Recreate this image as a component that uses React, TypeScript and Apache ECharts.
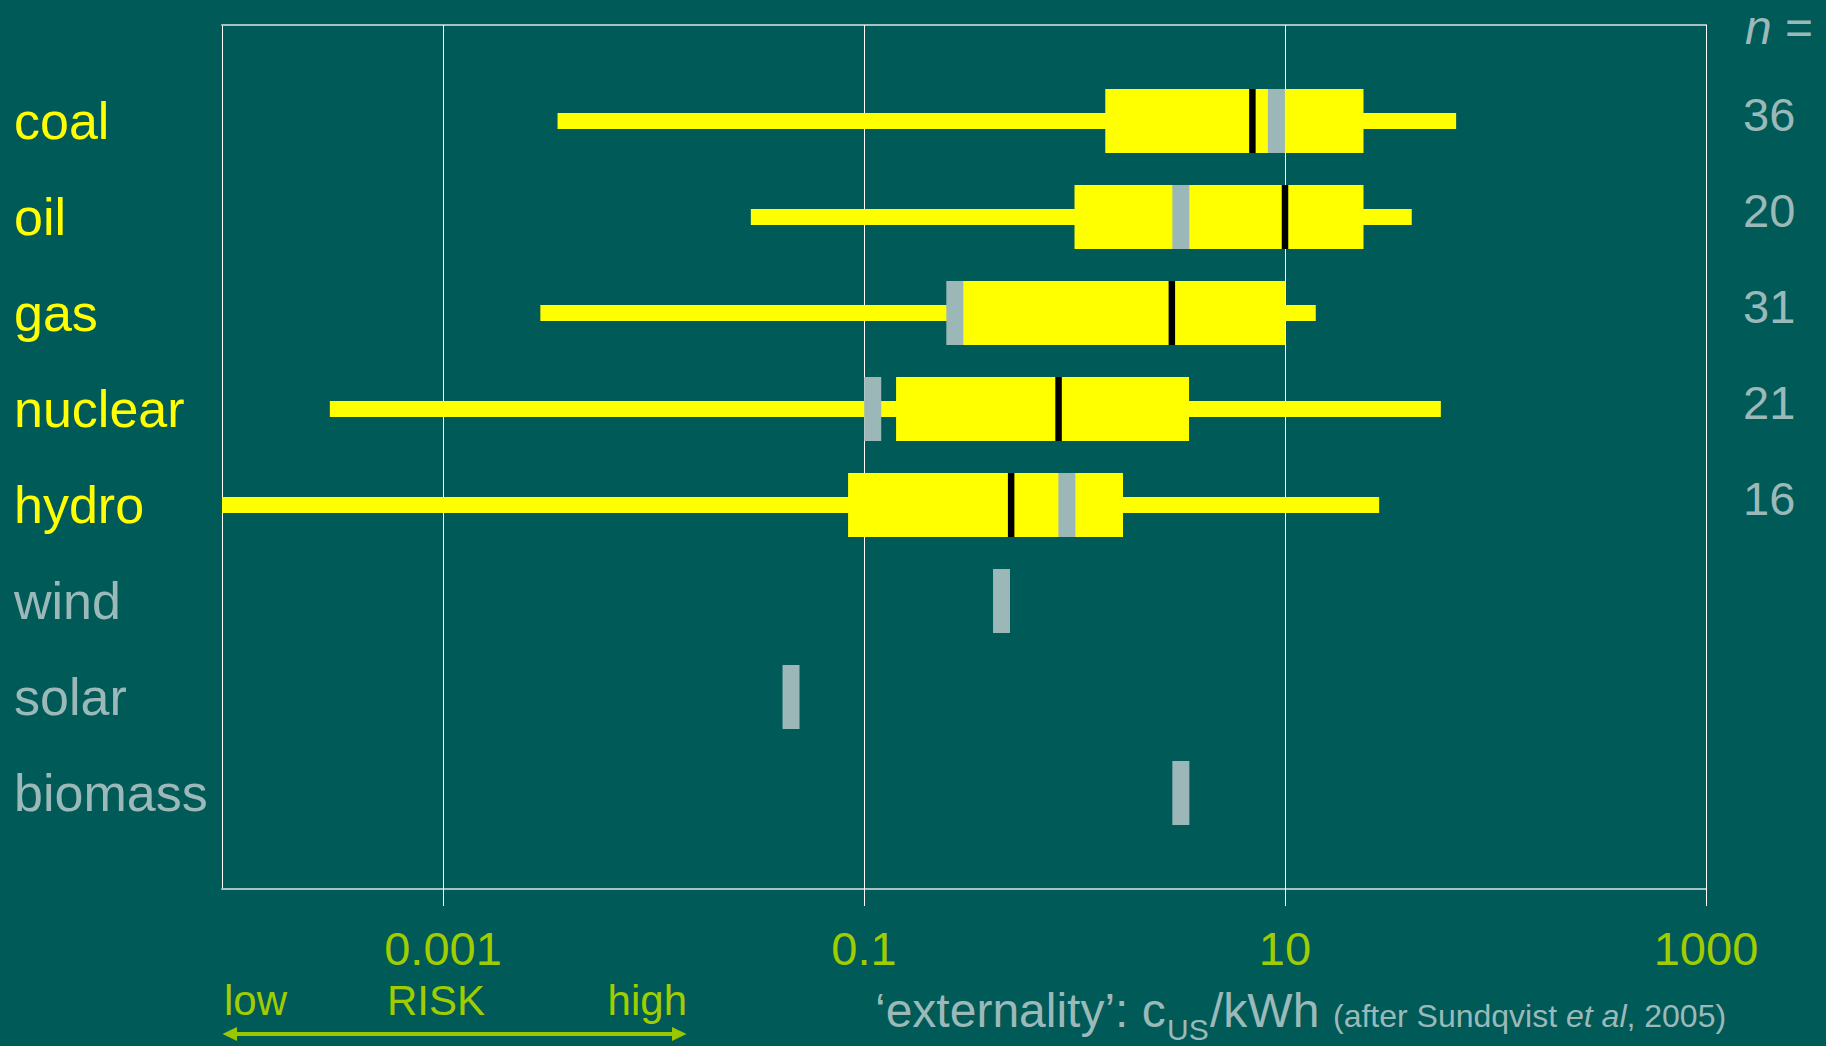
import React, { useEffect, useRef } from 'react';
import * as echarts from 'echarts';

// ---------- data ----------
const CATEGORIES = ['coal', 'oil', 'gas', 'nuclear', 'hydro', 'wind', 'solar', 'biomass'];
// externality in US cents / kWh
const WHISKER_LOW = [0.0035, 0.029, 0.0029, 0.00029, 0.00008, null, null, null];
const BOX_LOW = [1.4, 1.0, 0.29, 0.142, 0.084, null, null, null];
const MEDIAN = [7.0, 10, 2.9, 0.84, 0.5, null, null, null];
const BOX_HIGH = [23.6, 23.6, 10, 3.5, 1.7, null, null, null];
const WHISKER_HIGH = [65, 40, 14, 55, 28, null, null, null];
const OTHER_ESTIMATE = [9.1, 3.2, 0.27, 0.11, 0.92, 0.45, 0.045, 3.2];
const N_STUDIES = [36, 20, 31, 21, 16, null, null, null];
const TICK_VALUES = [0.001, 0.1, 10, 1000];
const TICK_LABELS = ['0.001', '0.1', '10', '1000'];

// ---------- styles ----------
const FONT = '"Liberation Sans", Arial, Helvetica, sans-serif';
const BG = '#005a58';
const YELLOW = '#ffff00';
const MARK_GRAY = '#9bb7b7';
const TEXT_GRAY = '#9cb9b9';
const GREEN = '#a1cd00';
const ARROW_GREEN = '#99c800';
const BORDER_GRAY = '#a6c2c2';
const X_MIN = -4.05;
const X_MAX = 3;
const BOX_H = 64;
const WHISKER_H = 16;
const MARK_W = 17;
const MEDIAN_W = 6.5;
const TICK_EXT = 17;

const L = (v: number) => Math.log10(v);
const TICK_LOGS = TICK_VALUES.map(L);
const AXIS_CATS = ['', ...CATEGORIES, ''];

function buildOption(): any {
  const boxData = CATEGORIES.map((c, i) =>
    MEDIAN[i] == null
      ? null
      : [i + 1, L(WHISKER_LOW[i] as number), L(BOX_LOW[i] as number), L(BOX_HIGH[i] as number), L(WHISKER_HIGH[i] as number)]
  ).filter(Boolean);
  const markData = CATEGORIES.map((c, i) => [i + 1, L(OTHER_ESTIMATE[i])]);
  const medianData = CATEGORIES.map((c, i) => (MEDIAN[i] == null ? null : [i + 1, L(MEDIAN[i] as number)])).filter(Boolean);
  const gridData = TICK_LOGS.map((v) => [v, 0]);

  return {
    animation: false,
    backgroundColor: BG,
    textStyle: { fontFamily: FONT },
    grid: { left: 222, right: 120, top: 25, bottom: 157, containLabel: false, outerBoundsMode: 'none' },
    xAxis: [
      {
        type: 'value',
        position: 'bottom',
        min: X_MIN,
        max: X_MAX,
        axisLine: { show: true, onZero: false, lineStyle: { color: BORDER_GRAY, width: 2 } },
        axisTick: { show: false },
        splitLine: { show: false },
        axisLabel: {
          show: true,
          customValues: TICK_LOGS,
          formatter: (v: number) => {
            const k = TICK_LOGS.findIndex((t) => Math.abs(t - v) < 1e-6);
            return k >= 0 ? TICK_LABELS[k] : '';
          },
          color: GREEN,
          fontSize: 47,
          fontFamily: FONT,
          margin: 36,
          showMinLabel: true,
          showMaxLabel: true,
        },
      },
      {
        type: 'value',
        position: 'top',
        min: X_MIN,
        max: X_MAX,
        axisLine: { show: true, onZero: false, lineStyle: { color: BORDER_GRAY, width: 2 } },
        axisTick: { show: false },
        splitLine: { show: false },
        axisLabel: { show: false },
      },
    ],
    yAxis: [
      {
        type: 'category',
        position: 'left',
        data: AXIS_CATS,
        boundaryGap: false,
        inverse: true,
        axisLine: { show: true, onZero: false, lineStyle: { color: '#ffffff', width: 1 } },
        axisTick: { show: false },
        splitLine: { show: false },
        axisLabel: {
          interval: 0,
          align: 'left',
          margin: 208,
          fontSize: 52,
          fontFamily: FONT,
          color: (v: string) => {
            const i = CATEGORIES.indexOf(v);
            return i >= 0 && MEDIAN[i] != null ? YELLOW : TEXT_GRAY;
          },
        },
      },
      {
        type: 'category',
        position: 'right',
        data: AXIS_CATS,
        boundaryGap: false,
        inverse: true,
        axisLine: { show: true, onZero: false, lineStyle: { color: '#ffffff', width: 1 } },
        axisTick: { show: false },
        splitLine: { show: false },
        axisLabel: {
          interval: 0,
          align: 'left',
          verticalAlign: 'bottom',
          lineHeight: 13,
          margin: 37,
          fontSize: 47,
          fontFamily: FONT,
          color: TEXT_GRAY,
          formatter: (v: string) => {
            const i = CATEGORIES.indexOf(v);
            return i >= 0 && N_STUDIES[i] != null ? String(N_STUDIES[i]) : '';
          },
        },
      },
    ],
    series: [
      {
        name: 'gridlines',
        type: 'custom',
        z: 1,
        silent: true,
        encode: { x: 0, y: 1 },
        data: gridData,
        renderItem: (params: any, api: any) => {
          const cs = params.coordSys;
          const x = Math.round(api.coord([api.value(0), 0])[0]) + 0.5;
          return {
            type: 'line',
            shape: { x1: x, y1: cs.y, x2: x, y2: cs.y + cs.height + TICK_EXT },
            style: { stroke: '#ffffff', lineWidth: 1 },
          };
        },
      },
      {
        name: 'range',
        type: 'custom',
        z: 2,
        encode: { y: 0, x: [1, 2, 3, 4] },
        data: boxData,
        renderItem: (params: any, api: any) => {
          const cs = params.coordSys;
          const yi = api.value(0);
          const p0 = api.coord([api.value(1), yi]);
          const xq1 = api.coord([api.value(2), yi])[0];
          const xq3 = api.coord([api.value(3), yi])[0];
          const xw1 = api.coord([api.value(4), yi])[0];
          const xw0 = Math.max(p0[0], cs.x);
          const yc = p0[1];
          return {
            type: 'group',
            children: [
              {
                type: 'rect',
                shape: { x: xw0, y: yc - WHISKER_H / 2, width: xw1 - xw0, height: WHISKER_H },
                style: { fill: YELLOW },
              },
              {
                type: 'rect',
                shape: { x: xq1, y: yc - BOX_H / 2, width: xq3 - xq1, height: BOX_H },
                style: { fill: YELLOW },
              },
            ],
          };
        },
      },
      {
        name: 'other estimate',
        type: 'custom',
        z: 3,
        encode: { y: 0, x: 1 },
        data: markData,
        renderItem: (params: any, api: any) => {
          const p = api.coord([api.value(1), api.value(0)]);
          return {
            type: 'rect',
            shape: { x: p[0] - MARK_W / 2, y: p[1] - BOX_H / 2, width: MARK_W, height: BOX_H },
            style: { fill: MARK_GRAY },
          };
        },
      },
      {
        name: 'median',
        type: 'custom',
        z: 4,
        encode: { y: 0, x: 1 },
        data: medianData,
        renderItem: (params: any, api: any) => {
          const p = api.coord([api.value(1), api.value(0)]);
          return {
            type: 'rect',
            shape: { x: p[0] - MEDIAN_W / 2, y: p[1] - BOX_H / 2, width: MEDIAN_W, height: BOX_H },
            style: { fill: '#000000' },
          };
        },
      },
    ],
    graphic: [
      {
        type: 'text',
        x: 1745,
        y: 27,
        style: {
          text: '{i|n} =',
          fontSize: 48,
          fontFamily: FONT,
          fill: TEXT_GRAY,
          align: 'left',
          textAlign: 'left',
          verticalAlign: 'middle',
          textVerticalAlign: 'middle',
          rich: { i: { fontStyle: 'italic', fontSize: 48, fontFamily: FONT, fill: TEXT_GRAY } },
        },
      },
      {
        type: 'text',
        x: 224,
        y: 1000.5,
        style: { text: 'low', fontSize: 42, fontFamily: FONT, fill: GREEN, align: 'left', textAlign: 'left', verticalAlign: 'middle', textVerticalAlign: 'middle' },
      },
      {
        type: 'text',
        x: 436,
        y: 1000.5,
        style: { text: 'RISK', fontSize: 42, fontFamily: FONT, fill: GREEN, align: 'center', textAlign: 'center', verticalAlign: 'middle', textVerticalAlign: 'middle' },
      },
      {
        type: 'text',
        x: 687,
        y: 1000.5,
        style: { text: 'high', fontSize: 42, fontFamily: FONT, fill: GREEN, align: 'right', textAlign: 'right', verticalAlign: 'middle', textVerticalAlign: 'middle' },
      },
      {
        type: 'line',
        shape: { x1: 235, y1: 1034, x2: 674, y2: 1034 },
        style: { stroke: ARROW_GREEN, lineWidth: 4 },
      },
      {
        type: 'polygon',
        shape: { points: [[222.5, 1034], [237, 1027], [237, 1041]] },
        style: { fill: ARROW_GREEN },
      },
      {
        type: 'polygon',
        shape: { points: [[686.5, 1034], [672, 1027], [672, 1041]] },
        style: { fill: ARROW_GREEN },
      },
      {
        type: 'text',
        x: 875,
        y: 1010.5,
        style: { text: '\u2018externality\u2019: c', fontSize: 48, fontFamily: FONT, fill: TEXT_GRAY, align: 'left', textAlign: 'left', verticalAlign: 'middle', textVerticalAlign: 'middle' },
      },
      {
        type: 'text',
        x: 1167,
        y: 1029.5,
        style: { text: 'US', fontSize: 30, fontFamily: FONT, fill: TEXT_GRAY, align: 'left', textAlign: 'left', verticalAlign: 'middle', textVerticalAlign: 'middle' },
      },
      {
        type: 'text',
        x: 1210,
        y: 1010.5,
        style: { text: '/kWh', fontSize: 48, fontFamily: FONT, fill: TEXT_GRAY, align: 'left', textAlign: 'left', verticalAlign: 'middle', textVerticalAlign: 'middle' },
      },
      {
        type: 'text',
        x: 1333,
        y: 1016,
        style: {
          text: '(after Sundqvist {i|et al}, 2005)',
          fontSize: 32,
          fontFamily: FONT,
          fill: TEXT_GRAY,
          align: 'left',
          textAlign: 'left',
          verticalAlign: 'middle',
          textVerticalAlign: 'middle',
          rich: { i: { fontStyle: 'italic', fontSize: 32, fontFamily: FONT, fill: TEXT_GRAY } },
        },
      },
    ],
  };
}

export default function App() {
  const ref = useRef<HTMLDivElement>(null);
  useEffect(() => {
    document.body.style.margin = '0';
    document.body.style.background = BG;
    const chart = echarts.init(ref.current as HTMLDivElement, undefined, { renderer: 'svg' });
    chart.setOption(buildOption());
    return () => {
      chart.dispose();
    };
  }, []);
  return (
    <div
      ref={ref}
      style={{ position: 'absolute', left: 0, top: 0, width: 1826, height: 1046, background: BG }}
    />
  );
}
